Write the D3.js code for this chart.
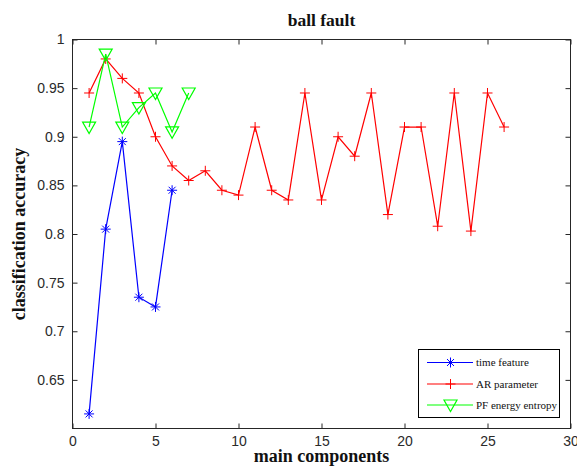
<!DOCTYPE html>
<html><head><meta charset="utf-8">
<script src="https://cdn.jsdelivr.net/npm/d3@7"></script>
<style>body{margin:0;background:#fff;} svg{display:block;}</style>
</head><body>
<svg id="chart" width="577" height="467"></svg>
<script>
const xTicks = [0,5,10,15,20,25,30];
const yTicks = [0.65,0.7,0.75,0.8,0.85,0.9,0.95,1];
const yTickLabels = ["0.65","0.7","0.75","0.8","0.85","0.9","0.95","1"];
const timeX = [1,2,3,4,5,6];
const timeY = [0.615,0.805,0.895,0.735,0.725,0.845];
const arX = [1,2,3,4,5,6,7,8,9,10,11,12,13,14,15,16,17,18,19,20,21,22,23,24,25,26];
const arY = [0.945,0.98,0.96,0.945,0.90,0.87,0.855,0.865,0.845,0.84,0.91,0.845,0.835,0.945,0.835,0.90,0.88,0.945,0.82,0.91,0.91,0.808,0.945,0.803,0.945,0.91];
const pfX = [1,2,3,4,5,6,7];
const pfY = [0.91,0.985,0.91,0.93,0.945,0.905,0.945];
const seriesNames = ["time feature","AR parameter","PF energy entropy"];

const svg = d3.select("#chart");
const L=72.5, R=570.5, T=39.5, B=428.5;
const x = d3.scaleLinear().domain([0,30]).range([L,R]);
const y = d3.scaleLinear().domain([0.6,1]).range([B,T]);
const axisColor = "#262626";

svg.append("rect").attr("x",L).attr("y",T).attr("width",R-L).attr("height",B-T)
  .attr("fill","#fff").attr("stroke",axisColor).attr("stroke-width",1);

const tickFont = "Liberation Sans, Arial, sans-serif";
const xb = svg.append("g").attr("transform",`translate(0,${B})`)
  .call(d3.axisBottom(x).tickValues(xTicks).tickSizeInner(-5).tickSizeOuter(0).tickPadding(8));
const xt = svg.append("g").attr("transform",`translate(0,${T})`)
  .call(d3.axisTop(x).tickValues(xTicks).tickSizeInner(-5).tickSizeOuter(0).tickFormat(""));
const yl = svg.append("g").attr("transform",`translate(${L},0)`)
  .call(d3.axisLeft(y).tickValues(yTicks).tickSizeInner(-5).tickSizeOuter(0).tickPadding(8)
    .tickFormat((d,i)=>yTickLabels[i]));
const yr = svg.append("g").attr("transform",`translate(${R},0)`)
  .call(d3.axisRight(y).tickValues(yTicks).tickSizeInner(-5).tickSizeOuter(0).tickFormat(""));
[xb,xt,yl,yr].forEach(g=>{
  g.select(".domain").remove();
  g.selectAll("line").attr("stroke",axisColor);
  g.selectAll("text").attr("fill","#2a2a2a").style("font-family",tickFont).style("font-size","14px");
});

const line = d3.line().x(d=>x(d[0])).y(d=>y(d[1]));
const series = [
  {name:seriesNames[0], xs:timeX, ys:timeY, color:"#0000ff", marker:"star"},
  {name:seriesNames[1], xs:arX, ys:arY, color:"#ff0000", marker:"plus"},
  {name:seriesNames[2], xs:pfX, ys:pfY, color:"#00ff00", marker:"tri"}
];
function drawMarker(g, type, cx, cy, color){
  const s=5;
  if(type==="plus"||type==="star"){
    g.append("line").attr("x1",cx-s).attr("x2",cx+s).attr("y1",cy).attr("y2",cy).attr("stroke",color);
    g.append("line").attr("x1",cx).attr("x2",cx).attr("y1",cy-s).attr("y2",cy+s).attr("stroke",color);
  }
  if(type==="star"){
    const d=3.5;
    g.append("line").attr("x1",cx-d).attr("x2",cx+d).attr("y1",cy-d).attr("y2",cy+d).attr("stroke",color);
    g.append("line").attr("x1",cx-d).attr("x2",cx+d).attr("y1",cy+d).attr("y2",cy-d).attr("stroke",color);
  }
  if(type==="tri"){
    g.append("path").attr("d",`M${cx-6.5},${cy-5}L${cx+6.5},${cy-5}L${cx},${cy+6.5}Z`)
      .attr("fill","none").attr("stroke",color).attr("stroke-width",1.2);
  }
}
const plot = svg.append("g");
series.forEach(s=>{
  const pts = s.xs.map((v,i)=>[v,s.ys[i]]);
  plot.append("path").datum(pts).attr("d",line).attr("fill","none").attr("stroke",s.color).attr("stroke-width",1.2);
  pts.forEach(p=>drawMarker(plot,s.marker,x(p[0]),y(p[1]),s.color));
});

const serif = "Liberation Serif, Times New Roman, serif";
svg.append("text").attr("x",(L+R)/2).attr("y",25.5).attr("text-anchor","middle")
  .style("font-family",serif).style("font-size","17.5px").style("font-weight","bold").attr("fill","#111").text("ball fault");
svg.append("text").attr("x",(L+R)/2).attr("y",462).attr("text-anchor","middle")
  .style("font-family",serif).style("font-size","18px").style("font-weight","bold").attr("fill","#111").text("main components");
svg.append("text").attr("transform",`translate(25,${(T+B)/2}) rotate(-90)`).attr("text-anchor","middle")
  .style("font-family",serif).style("font-size","18px").style("font-weight","bold").attr("fill","#111").text("classification accuracy");

const lg = svg.append("g");
lg.append("rect").attr("x",418.5).attr("y",349.5).attr("width",141).attr("height",68)
  .attr("fill","#fff").attr("stroke","#000").attr("stroke-width",1);
const rowsY=[362.5,384,405];
series.forEach((s,i)=>{
  lg.append("line").attr("x1",427).attr("x2",473).attr("y1",rowsY[i]).attr("y2",rowsY[i]).attr("stroke",s.color).attr("stroke-width",1.2);
  drawMarker(lg,s.marker,450.5,rowsY[i],s.color);
  lg.append("text").attr("x",476).attr("y",rowsY[i]+3.5).style("font-family",serif).style("font-size","11px")
    .attr("fill","#111").text(s.name);
});
</script>
</body></html>
